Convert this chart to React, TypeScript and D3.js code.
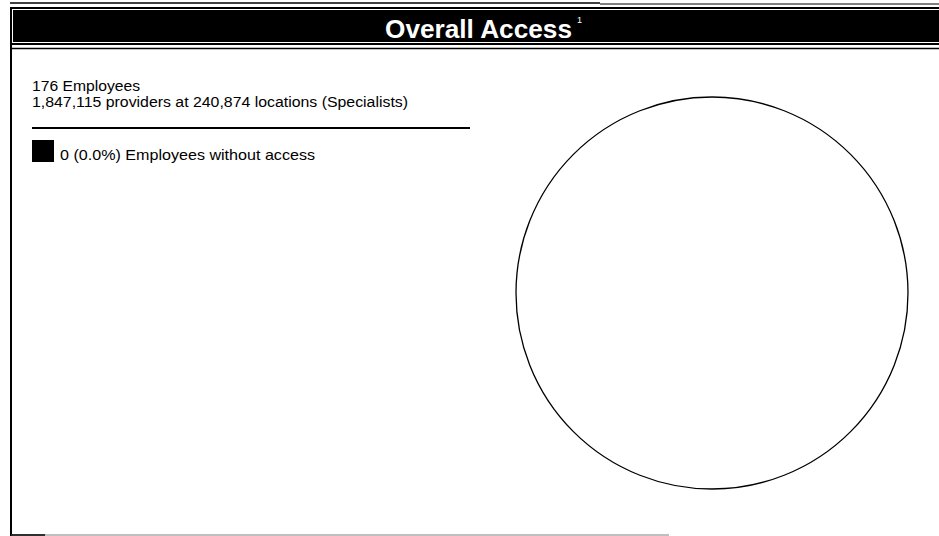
import React from "react";
import * as d3 from "d3";

const title = "Overall Access";
const titleNote = "1";
const employeesLabel = "176 Employees";
const providersLabel = "1,847,115 providers at 240,874 locations (Specialists)";
const sliceNames = ["Employees with access", "Employees without access"];
const sliceValues = [176, 0];
const sliceColors = ["#ffffff", "#000000"];
const legendEntries = ["0 (0.0%) Employees without access"];

const W = 939;
const H = 536;

export default function App() {
  const pie = d3.pie<number>().sort(null).value((d) => d)(sliceValues);
  const cx = 712;
  const cy = 293;
  const r = 196;
  const arc = d3.arc<d3.PieArcDatum<number>>().innerRadius(0).outerRadius(r);
  const font = "'Liberation Sans', Arial, sans-serif";
  return (
    <svg
      width={W}
      height={H}
      style={{ position: "absolute", left: 0, top: 0, background: "#fff" }}
    >
      {/* header */}
      <line x1={10} x2={600} y1={3} y2={3} stroke="#000" strokeWidth={1.5} />
      <line x1={600} x2={939} y1={4} y2={4} stroke="#000" strokeWidth={1} />
      <rect x={10} y={7} width={929} height={38} fill="#000" />
      <rect
        x={12.5}
        y={9.5}
        width={930}
        height={33}
        fill="none"
        stroke="#fff"
        strokeWidth={1}
      />
      <line x1={10} x2={939} y1={48.5} y2={48.5} stroke="#000" strokeWidth={1.5} />
      <text
        x={385}
        y={38}
        fill="#fff"
        fontFamily={font}
        fontWeight="bold"
        fontSize={26}
        textLength={187}
        lengthAdjust="spacingAndGlyphs"
      >
        {title}
      </text>
      <text x={577} y={23} fill="#fff" fontFamily={font} fontSize={9}>
        {titleNote}
      </text>
      {/* left border + bottom */}
      <line x1={11} x2={11} y1={7} y2={536} stroke="#000" strokeWidth={2} />
      <line x1={11} x2={669} y1={535} y2={535} stroke="#aaa" strokeWidth={1.5} />
      <line x1={11} x2={45} y1={535} y2={535} stroke="#000" strokeWidth={1.5} />
      {/* info text */}
      <text
        x={32}
        y={91}
        fontFamily={font}
        fontSize={14}
        fill="#000"
        textLength={108}
        lengthAdjust="spacingAndGlyphs"
      >
        {employeesLabel}
      </text>
      <text
        x={32}
        y={107}
        fontFamily={font}
        fontSize={14}
        fill="#000"
        textLength={376}
        lengthAdjust="spacingAndGlyphs"
      >
        {providersLabel}
      </text>
      <line x1={32} x2={470} y1={128} y2={128} stroke="#000" strokeWidth={2} />
      {legendEntries.map((t, i) => (
        <g key={t} transform={`translate(32, ${140 + i * 26})`}>
          <rect width={22} height={22} fill={sliceColors[1]} />
          <text
            x={28}
            y={20}
            fontFamily={font}
            fontSize={15}
            fill="#000"
            textLength={255}
            lengthAdjust="spacingAndGlyphs"
          >
            {t}
          </text>
        </g>
      ))}
      {/* pie */}
      <g transform={`translate(${cx}, ${cy})`}>
        {pie.map((d, i) =>
          d.endAngle - d.startAngle > 0 ? (
            <path
              key={sliceNames[i]}
              d={arc(d) || ""}
              fill={sliceColors[i]}
              stroke="#000"
              strokeWidth={1.3}
            />
          ) : null
        )}
      </g>
    </svg>
  );
}
